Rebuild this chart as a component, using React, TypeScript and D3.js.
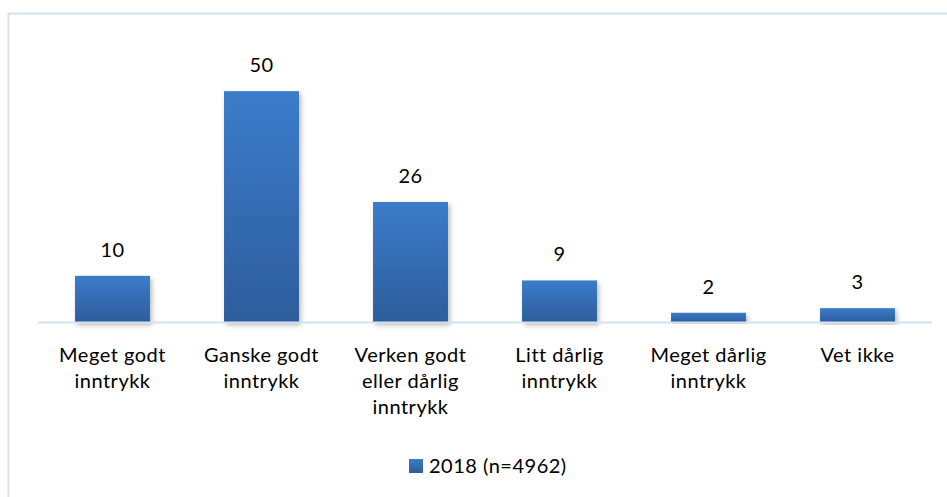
import React from "react";
import * as d3 from "d3";

const categories: string[][] = [
  ["Meget godt", "inntrykk"],
  ["Ganske godt", "inntrykk"],
  ["Verken godt", "eller dårlig", "inntrykk"],
  ["Litt dårlig", "inntrykk"],
  ["Meget dårlig", "inntrykk"],
  ["Vet ikke"],
];
const values: number[] = [10, 50, 26, 9, 2, 3];
const seriesName = "2018 (n=4962)";

const W = 947;
const H = 497;
const FONT = "Lato, 'Open Sans', sans-serif";
const FS = 20;
const LS = 0.5;

export default function App() {
  const keys = categories.map((c) => c.join(" "));
  const x = d3.scaleBand<string>().domain(keys).range([38, 932]).paddingInner(0.497).paddingOuter(0.2485);
  const y = d3.scaleLinear().domain([0, 60]).range([322, 45]);
  return (
    <svg width={W} height={H} style={{ position: "absolute", left: 0, top: 0 }}>
      <defs>
        <linearGradient id="barGrad" x1="0" y1="0" x2="0" y2="1">
          <stop offset="0%" stopColor="#3b7cca" />
          <stop offset="100%" stopColor="#2d5d9c" />
        </linearGradient>
        <filter id="shadow" x="-20%" y="-20%" width="140%" height="140%">
          <feDropShadow dx="2" dy="3" stdDeviation="2.5" floodColor="#000" floodOpacity="0.28" />
        </filter>
      </defs>
      <rect x={0} y={0} width={W} height={H} fill="#fff" />
      <rect x={8.5} y={13.5} width={W + 20} height={H + 20} fill="none" stroke="#d6e2f1" strokeWidth={2} />
      {values.map((v, i) => (
        <rect
          key={keys[i]}
          x={x(keys[i])}
          y={y(v)}
          width={x.bandwidth()}
          height={y(0) - y(v)}
          fill="url(#barGrad)"
          filter="url(#shadow)"
        />
      ))}
      <line x1={38} x2={932} y1={322.5} y2={322.5} stroke="#d6e2f1" strokeWidth={2} />
      {values.map((v, i) => (
        <text
          key={"v" + i}
          x={(x(keys[i]) as number) + x.bandwidth() / 2}
          y={y(v) - 19}
          textAnchor="middle"
          fontFamily={FONT}
          fontSize={FS}
          letterSpacing={LS}
          fill="#000"
        >
          {v}
        </text>
      ))}
      {categories.map((lines, i) => (
        <text
          key={"c" + i}
          x={(x(keys[i]) as number) + x.bandwidth() / 2}
          y={362}
          textAnchor="middle"
          fontFamily={FONT}
          fontSize={FS}
          letterSpacing={LS}
          fill="#000"
        >
          {lines.map((l, j) => (
            <tspan key={j} x={(x(keys[i]) as number) + x.bandwidth() / 2} dy={j === 0 ? 0 : 26}>
              {l}
            </tspan>
          ))}
        </text>
      ))}
      <rect x={409} y={459} width={14} height={14} fill="url(#barGrad)" />
      <text x={429} y={473} fontFamily={FONT} fontSize={FS} letterSpacing={LS} fill="#000">
        {seriesName}
      </text>
    </svg>
  );
}
